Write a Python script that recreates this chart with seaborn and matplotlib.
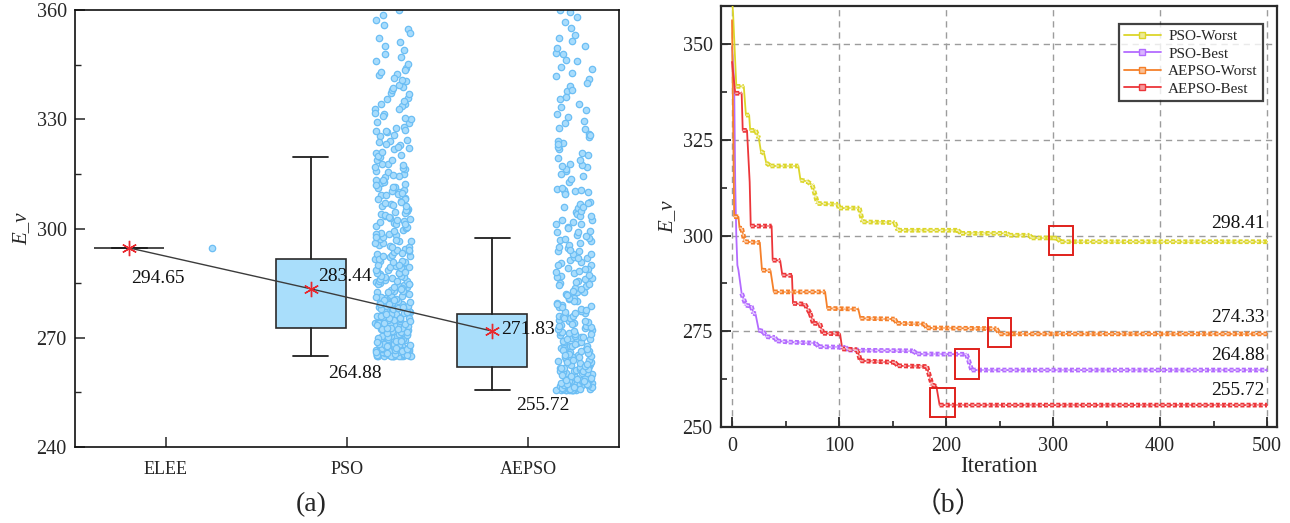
import numpy as np
import pandas as pd
import matplotlib
matplotlib.use("Agg")
import matplotlib.pyplot as plt
import seaborn as sns
from matplotlib.lines import Line2D
from matplotlib.patches import Rectangle
from matplotlib.ticker import MultipleLocator
from matplotlib.colors import to_rgb

# ---------------- data : panel (a) ----------------
categories = ["ELEE", "PSO", "AEPSO"]
box_q1 = [294.65, 272.7, 262.0]
box_median = [294.65, 281.5, 269.0]
box_q3 = [294.65, 291.6, 276.5]
whisker_low = [294.65, 264.88, 255.72]
whisker_high = [294.65, 319.6, 297.4]
mean_values = [294.65, 283.44, 271.83]

elee_samples = [294.65]
pso_samples = [
    264.88, 264.88, 264.88, 264.88, 264.88, 264.88, 264.88, 264.88, 264.88, 264.88,
    265.1, 265.3, 265.4, 265.6, 265.8, 265.9, 266.1, 266.2, 266.4, 266.5, 266.7, 266.9,
    267.0, 267.2, 267.3, 267.5, 267.7, 267.8, 268.0, 268.1, 268.3, 268.6, 268.8, 269.0,
    269.2, 269.5, 269.7, 269.9,
    270.1, 270.3, 270.6, 270.8, 271.0, 271.3, 271.5, 271.7, 272.0, 272.2, 272.4, 272.7,
    272.9, 273.1, 273.4, 273.6, 273.9, 274.1, 274.3, 274.6, 274.8, 275.1, 275.4, 275.6,
    275.9, 276.2, 276.4, 276.7, 277.0, 277.3, 277.5, 277.8, 278.1, 278.4, 278.7, 279.0,
    279.3, 279.6, 279.9,
    280.2, 280.5, 280.8, 281.1, 281.5, 281.8, 282.1, 282.4, 282.8, 283.1, 283.4, 283.8,
    284.1, 284.5, 284.8, 285.2, 285.5, 285.9, 286.3, 286.6, 287.0, 287.4, 287.8, 288.2,
    288.6, 289.0, 289.4, 289.8,
    290.3, 290.7, 291.2, 291.6, 292.1, 292.6, 293.0, 293.5, 294.0, 294.5, 295.0, 295.5,
    296.1, 296.6, 297.2, 297.7, 298.3, 298.9, 299.5,
    300.1, 300.7, 301.4, 302.0, 302.7, 303.3, 304.0, 304.7, 305.4, 306.1, 306.8, 307.6,
    308.3, 309.1, 309.9,
    310.7, 311.5, 312.4, 313.2, 314.1, 315.0, 315.9, 316.9, 317.8, 318.8, 319.6,
    320.8, 321.9, 323.0, 324.1, 325.3, 326.4, 327.6, 328.9,
    330.2, 331.5, 332.9, 334.3, 335.8, 337.3, 338.9,
    340.6, 342.3, 344.1, 346.0, 348.0,
    350.1, 352.4, 354.8, 357.3, 359.9,
    265.2, 265.7, 266.3, 266.8, 267.4, 268.2, 268.9, 269.4, 270.0, 270.5, 271.1, 271.9,
    272.5, 273.3, 273.8, 274.4, 275.0, 275.7, 276.5, 277.1, 277.9, 278.6, 279.4, 280.0,
    280.7, 281.6, 282.6, 283.6, 284.7, 285.7, 286.8, 287.9, 289.1, 290.0, 291.0, 292.4,
    293.8, 295.3, 296.9, 298.6, 265.0, 265.5, 266.0, 266.6, 267.1, 267.6, 268.4, 269.1,
    269.8, 270.9, 271.8, 272.8, 274.0, 275.3, 276.9, 278.3, 280.4, 282.9, 285.0, 288.0,
    301.1, 303.7, 306.5, 309.5, 312.8, 316.3, 303.0, 305.0, 308.0, 311.0, 322.5, 326.9,
    333.6, 341.4,
    265.0, 265.2, 265.4, 265.5, 265.7, 266.0, 266.3, 266.5, 266.9, 267.2, 267.6, 267.9,
    268.3, 268.7, 269.1, 269.6, 270.2, 270.7, 271.2, 271.7, 272.3, 272.8, 273.5, 274.1,
    274.7, 275.3, 275.9, 276.6, 277.2, 277.9, 278.5, 279.2, 279.8, 280.5, 281.2, 281.9,
    282.6, 283.3, 284.0, 284.8, 285.5, 286.2, 287.0, 287.7, 288.5, 289.3, 290.1, 290.9,
    291.7, 292.5, 293.3, 294.2, 295.0, 295.9, 296.7, 297.6, 298.5, 299.4,
    300.4, 301.3, 302.3, 303.2, 304.2, 305.2, 306.2, 307.2, 308.2, 309.2, 310.3, 311.3,
    312.3, 313.4, 314.5, 315.5, 316.6, 317.7, 318.8, 319.9, 321.0, 322.1, 323.3, 324.4,
    325.6, 326.8, 328.0, 329.2, 330.4, 331.7, 332.9, 334.2, 335.5, 336.8, 338.1, 339.5,
    340.8, 342.2, 343.6, 345.1,
    301.9, 304.4, 307.0, 309.7, 312.0, 314.8, 317.3, 320.3, 323.7, 327.1, 330.9, 334.9,
    338.5, 343.0, 347.2, 349.1, 351.3, 353.6, 355.9, 358.6,
]
aepso_samples = [
    255.72, 255.72, 255.72, 255.72, 255.72, 255.72, 255.72, 255.72, 255.72, 255.72,
    255.9, 256.0, 256.2, 256.3, 256.5, 256.6, 256.8, 256.9, 257.1, 257.2, 257.4, 257.5,
    257.7, 257.9, 258.0, 258.2, 258.4, 258.5, 258.7, 258.9, 259.1, 259.3, 259.5, 259.7,
    259.9, 255.8, 256.1, 256.4, 256.7, 257.0, 257.3, 257.6, 258.1, 258.6, 259.0, 259.6,
    260.1, 260.4, 260.6, 260.9, 261.1, 261.4, 261.7, 261.9, 262.2, 262.5, 262.8, 263.1,
    263.3, 263.6, 263.9, 264.2, 264.5, 264.8, 265.1, 265.4, 265.8, 266.1, 266.4, 266.8,
    267.1, 267.5, 267.8, 268.2, 268.6, 268.9, 269.3, 269.7,
    260.3, 261.0, 261.6, 262.4, 263.0, 263.8, 264.6, 265.6, 266.6, 267.7, 268.8, 269.9,
    270.1, 270.5, 270.9, 271.3, 271.8, 272.2, 272.6, 273.1, 273.5, 274.0, 274.5, 274.9,
    275.4, 275.9, 276.4, 276.9, 277.4, 278.0, 278.5, 279.0, 279.6,
    270.7, 271.6, 272.9, 274.2, 275.6, 277.1, 278.8,
    280.2, 280.7, 281.3, 281.9, 282.5, 283.1, 283.7, 284.3, 285.0, 285.6, 286.3, 287.0,
    287.7, 288.4, 289.1, 289.9, 281.0, 282.8, 284.7, 286.7, 288.8,
    290.6, 291.4, 292.2, 293.0, 293.8, 294.7, 295.6, 296.5, 297.4, 298.3, 299.3,
    291.8, 294.2, 296.9, 299.0,
    300.3, 301.3, 302.3, 303.4, 304.5, 305.6, 306.7, 307.3, 301.8, 303.9, 306.0,
    309.8, 310.2, 310.5, 310.9,
    312.9, 314.4, 315.8, 317.0, 317.5, 318.9, 320.3, 321.8,
    323.4, 325.0, 326.0, 327.7, 329.5,
    331.4, 333.4, 335.5, 337.7, 339.0,
    341.0, 342.8, 344.3, 346.3, 348.1, 349.7,
    351.5, 353.0, 356.8, 359.5, 360.0,
    255.8, 256.0, 256.3, 256.6, 256.9, 257.3, 257.7, 258.1, 258.5, 258.9, 259.4, 259.8,
    260.3, 260.8, 261.3, 261.8, 262.3, 262.9, 263.4, 264.0, 264.6, 265.2, 265.8, 266.4,
    267.0, 267.7, 268.3, 269.0, 269.6, 270.3, 271.0, 271.7, 272.4, 273.1, 273.8, 274.6,
    275.3, 276.1, 276.9, 277.7, 278.5, 279.3, 280.1, 281.0, 281.8, 282.7, 283.5, 284.4,
    285.3, 286.2, 287.1, 288.0, 289.0, 289.9, 290.9, 291.9, 292.9, 293.9, 294.9, 295.9,
    297.0, 298.0, 299.1, 300.2, 301.3, 302.4, 303.5, 304.7, 305.8, 306.9,
    313.5, 314.9, 316.3, 317.8, 319.3, 320.8, 322.4, 324.0, 325.6, 327.3, 329.0, 330.7,
    332.5, 334.3, 336.1, 338.0, 339.9, 341.9, 343.9, 345.9, 348.0, 350.1, 352.3, 355.0,
    358.0, 309.5, 310.0, 310.7, 311.2, 317.2, 323.1,
]

# ---------------- data : panel (b) ----------------
series_names = ["PSO-Worst", "PSO-Best", "AEPSO-Worst", "AEPSO-Best"]
series_colors = ["#DCD62A", "#B36BFF", "#F5802A", "#EC3539"]

iter_pso_worst = [0, 1, 4, 11, 13, 16, 17, 22, 25, 27, 30, 32, 36, 62, 64, 70, 75, 80, 99, 100,
                  119, 122, 152, 155, 211, 214, 257, 259, 278, 280, 300, 304, 307, 500]
val_pso_worst = [362, 358, 339, 339, 331.5, 331.5, 327.5, 327.5, 325.5, 322, 321.5, 319, 318.2,
                 318.2, 314.5, 314.2, 313.2, 308.4, 308.2, 307.2, 307.2, 303.6, 303.4, 301.4,
                 301.4, 300.6, 300.6, 300.1, 300.1, 299.4, 299.4, 299.3, 298.41, 298.41]

iter_pso_best = [0, 2, 3, 4, 5, 6, 9, 13, 18, 20, 22, 25, 29, 32, 40, 42, 53, 78, 81, 106, 109,
                 169, 173, 219, 221, 224, 500]
val_pso_best = [349.3, 340, 313.6, 300, 292.3, 291, 284.9, 281.8, 281.6, 279.7, 279.5, 275.3,
                275.0, 273.6, 273.4, 272.5, 272.2, 271.9, 271.0, 270.8, 270.1, 269.9, 269.1,
                269.0, 267.5, 264.88, 264.88]

iter_aepso_worst = [0, 2, 6, 7, 9, 12, 26, 28, 36, 39, 87, 89, 118, 120, 152, 154, 180, 182,
                    247, 250, 500]
val_aepso_worst = [356.3, 305.0, 304.9, 302.0, 301.9, 298.4, 298.2, 291.0, 290.8, 285.3, 285.3,
                   281.0, 280.8, 278.4, 278.2, 277.1, 276.9, 275.9, 275.7, 274.33, 274.33]

iter_aepso_best = [0, 3, 9, 10, 14, 16.5, 17.5, 37, 38, 45, 47, 56, 57, 68, 73, 76, 82, 85, 101,
                   103, 117, 120, 152, 155, 182, 187, 191, 194, 500]
val_aepso_best = [345.4, 337.2, 337.2, 327.5, 327.5, 314.0, 302.5, 302.5, 293.6, 293.5, 289.7,
                  289.6, 282.3, 282.1, 279.7, 277.1, 277.0, 274.5, 274.3, 270.4, 270.2, 267.3,
                  266.9, 266.0, 265.8, 261.0, 260.6, 255.72, 255.72]

final_values = [298.41, 274.33, 264.88, 255.72]

# highlight boxes around convergence points (iteration range, value range)
highlight_iter = [(296, 319), (239, 261), (208, 231), (185, 208)]
highlight_val = [(294.9, 302.4), (270.9, 278.6), (262.6, 270.3), (252.6, 260.2)]

# ---------------- style ----------------
sns.set_theme(style="ticks")
plt.rcParams["font.family"] = ["Liberation Serif", "Noto Sans CJK SC", "DejaVu Sans"]

fig = plt.figure(figsize=(12.9, 5.23), dpi=100)
axL = fig.add_axes([75 / 1290, 1 - 447 / 523, (619 - 75) / 1290, (447 - 10) / 523])
axR = fig.add_axes([721 / 1290, 1 - 427 / 523, (1277 - 721) / 1290, (427 - 6) / 523])

# ---------------- panel (a) ----------------
strip_df = pd.DataFrame({
    "method": ["ELEE"] * len(elee_samples) + ["PSO"] * len(pso_samples) + ["AEPSO"] * len(aepso_samples),
    "E_v": elee_samples + pso_samples + aepso_samples,
})
np.random.seed(7)
sns.stripplot(data=strip_df, x="method", y="E_v", order=categories, jitter=0.1, size=4.6,
              color="#A8DCFC", edgecolor="#6CBEF4", linewidth=0.9, ax=axL, zorder=2)
strip_shift = 0.253
for coll in axL.collections:
    off = np.asarray(coll.get_offsets()).copy()
    if len(off):
        off[:, 0] += strip_shift
        coll.set_offsets(off)

box_pos = np.arange(len(categories)) - 0.2
stats = [dict(med=m, q1=a, q3=b, whislo=lo, whishi=hi, fliers=[], label=c)
         for m, a, b, lo, hi, c in zip(box_median, box_q1, box_q3, whisker_low, whisker_high, categories)]
axL.bxp(stats, positions=box_pos, widths=0.386, patch_artist=True, showfliers=False,
        boxprops=dict(facecolor="#A9DEFB", edgecolor="#2b2b2b", linewidth=1.2),
        whiskerprops=dict(color="#1f1f1f", linewidth=1.3),
        capprops=dict(color="#1f1f1f", linewidth=1.3),
        medianprops=dict(linewidth=0), manage_ticks=False, zorder=3)

sns.lineplot(x=box_pos, y=mean_values, color="#3c3c3c", linewidth=1.0, ax=axL, zorder=4,
             sort=False, estimator=None)
axL.plot(box_pos, mean_values, ls="none", marker=(6, 2, 0), ms=11, mec="#E8282E", mfc="#E8282E",
         mew=1.0, zorder=5)

txt_kw = dict(fontsize=14, ha="center", va="center", color="#111111", zorder=6)
mean_label_dx = [0.155, 0.19, 0.20]
mean_label_dy = [-8.25, 3.26, 0.57]
for p, m, dx, dy in zip(box_pos, mean_values, mean_label_dx, mean_label_dy):
    axL.text(p + dx, m + dy, f"{m:.2f}", **txt_kw)
min_label_dx = [None, 0.245, 0.28]
min_label_dy = [None, -4.8, -4.4]
for p, lo, dx, dy in zip(box_pos, whisker_low, min_label_dx, min_label_dy):
    if dx is not None:
        axL.text(p + dx, lo + dy, f"{lo:.2f}", **txt_kw)

axL.set_xlim(-0.5, 2.5)
axL.set_ylim(240, 360)
axL.yaxis.set_major_locator(MultipleLocator(30))
axL.yaxis.set_minor_locator(MultipleLocator(15))
axL.set_xticks(range(len(categories)))
axL.set_xticklabels(categories)
axL.set_xlabel("")
axL.set_ylabel("E_v", fontsize=15, fontstyle="italic", labelpad=4)
axL.tick_params(axis="y", which="major", direction="in", length=7, width=1.1, labelsize=14.5, pad=6)
axL.tick_params(axis="y", which="minor", direction="in", length=4, width=1.0)
axL.tick_params(axis="x", which="major", direction="in", length=7, width=1.1, labelsize=13, pad=10)
for s in axL.spines.values():
    s.set_visible(True)
    s.set_linewidth(1.2)
    s.set_color("#111111")

# ---------------- panel (b) ----------------
iters = [iter_pso_worst, iter_pso_best, iter_aepso_worst, iter_aepso_best]
vals = [val_pso_worst, val_pso_best, val_aepso_worst, val_aepso_best]
rows = []
for name, xs, ys in zip(series_names, iters, vals):
    for x, y in zip(xs, ys):
        rows.append((name, x, y))
conv_df = pd.DataFrame(rows, columns=["series", "Iteration", "E_v"])

axR.grid(True, which="major", linestyle=(0, (4.5, 3.5)), color="#9c9c9c", linewidth=1.0, zorder=0)
axR.set_axisbelow(True)

sns.lineplot(data=conv_df, x="Iteration", y="E_v", hue="series", hue_order=series_names,
             palette=series_colors, sort=False, estimator=None, linewidth=1.3, legend=False,
             ax=axR, zorder=3)


def lighten(c, f):
    r, g, b = to_rgb(c)
    return (r + (1 - r) * f, g + (1 - g) * f, b + (1 - b) * f)


for name, xs, ys, col in zip(series_names, iters, vals, series_colors):
    xs = np.asarray(xs, float)
    ys = np.asarray(ys, float)
    ox, oy = [], []
    for i in range(len(xs) - 1):
        dx = xs[i + 1] - xs[i]
        dy = abs(ys[i + 1] - ys[i])
        if dx > 0 and dy / dx < 1.2:
            ox += [xs[i], xs[i + 1], np.nan]
            oy += [ys[i], ys[i + 1], np.nan]
    axR.plot(ox, oy, color=col, lw=3.4, dashes=(0.85, 0.45), dash_capstyle="butt", zorder=4)
    axR.plot(ox, oy, color=lighten(col, 0.65), lw=1.0, dashes=(2.2, 1.6), zorder=5)

for (x0, x1), (y0, y1) in zip(highlight_iter, highlight_val):
    axR.add_patch(Rectangle((x0, y0), x1 - x0, y1 - y0, fill=False, ec="#E0201B", lw=1.4, zorder=6))

final_label_dy = [4.7, 4.4, 3.8, 3.9]
for v, dy in zip(final_values, final_label_dy):
    axR.text(498, v + dy, f"{v:.2f}", fontsize=14, ha="right", va="center", color="#111111", zorder=7)

handles = [Line2D([], [], color=c, lw=1.3, marker="s", ms=4, mfc=lighten(c, 0.5), mec=c, mew=1.0)
           for c in series_colors]
leg = axR.legend(handles, series_names, loc="upper right", bbox_to_anchor=(0.975, 0.957),
                 fontsize=11, frameon=True, fancybox=False, handlelength=2.4, handletextpad=0.5,
                 borderpad=0.35, labelspacing=0.25, borderaxespad=0.0)
leg.get_frame().set_edgecolor("#111111")
leg.get_frame().set_linewidth(1.6)
leg.set_zorder(10)

axR.set_xlim(-10.3, 509.3)
axR.set_ylim(250, 360)
axR.xaxis.set_major_locator(MultipleLocator(100))
axR.xaxis.set_minor_locator(MultipleLocator(50))
axR.yaxis.set_major_locator(MultipleLocator(25))
axR.yaxis.set_minor_locator(MultipleLocator(12.5))
axR.set_xlabel("Iteration", fontsize=16.5, labelpad=0)
axR.set_ylabel("E_v", fontsize=15, fontstyle="italic", labelpad=4)
axR.tick_params(axis="both", which="major", direction="in", length=7, width=1.3, labelsize=14.5)
axR.tick_params(axis="x", which="major", pad=7)
axR.tick_params(axis="y", which="major", pad=6)
axR.tick_params(axis="both", which="minor", direction="in", length=4, width=1.2)
for s in axR.spines.values():
    s.set_visible(True)
    s.set_linewidth(1.6)
    s.set_color("#2a2a2a")

fig.text(311 / 1290, 1 - 505 / 523, "(a)", fontsize=20, ha="center", va="center")
fig.text(948 / 1290, 1 - 505 / 523, "（b）", fontsize=20, ha="center", va="center")

fig.savefig("out.png", dpi=100)
